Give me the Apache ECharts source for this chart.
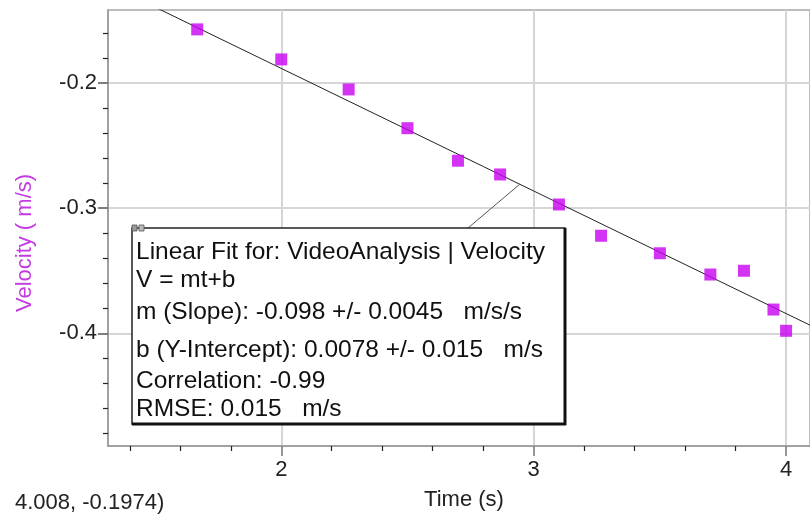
<!DOCTYPE html>
<html>
<head>
<meta charset="utf-8">
<script src="https://cdn.jsdelivr.net/npm/echarts@6/dist/echarts.min.js"></script>
<style>
  html, body { margin: 0; padding: 0; background: #fff; }
  #chart { width: 810px; height: 516px; }
</style>
</head>
<body>
<div id="chart"></div>
<script>
// video analysis points
var times = [1.667, 2.0, 2.267, 2.5, 2.7, 2.867, 3.1, 3.267, 3.5, 3.7, 3.833, 3.95, 4.0];
var velocity = [-0.157, -0.181, -0.205, -0.236, -0.262, -0.273, -0.297, -0.322, -0.336, -0.353, -0.350, -0.381, -0.398];

// linear fit  V = mt+b
var fitM = -0.098;
var fitB = 0.0078;

var xMajorTicks = [2, 3, 4];
var xMinorTicks = [1.4, 1.6, 1.8, 2.2, 2.4, 2.6, 2.8, 3.2, 3.4, 3.6, 3.8];
var yMajorTicks = [-0.2, -0.3, -0.4];
var yMinorTicks = [-0.16, -0.18, -0.22, -0.24, -0.26, -0.28, -0.32, -0.34, -0.36, -0.38, -0.42, -0.44, -0.46, -0.48];

var boxLines = [
  'Linear Fit for: VideoAnalysis | Velocity',
  'V = mt+b',
  'm (Slope): -0.098 +/- 0.0045   m/s/s',
  'b (Y-Intercept): 0.0078 +/- 0.015   m/s',
  'Correlation: -0.99',
  'RMSE: 0.015   m/s'
];

var xMin = 1.3136, xMax = 4.0947;
var yMin = -0.4901, yMax = -0.1415;
var font = 'Liberation Sans, Arial, sans-serif';

var pts = [];
for (var i = 0; i < times.length; i++) pts.push([times[i], velocity[i]]);
var fitPts = [[xMin, fitM * xMin + fitB], [xMax, fitM * xMax + fitB]];

var myChart = echarts.init(document.getElementById('chart'));

var lineY = [252, 280, 312, 350, 381, 409];
var graphics = [
  // connector from box to fit line
  { type: 'line', z: 100, shape: { x1: 468, y1: 228, x2: 520, y2: 184 }, style: { stroke: '#555', lineWidth: 1 } },
  { type: 'rect', z: 100, shape: { x: 132, y: 228, width: 433, height: 196 }, style: { fill: '#fff', stroke: '#222', lineWidth: 1.5 } },
  { type: 'line', z: 101, shape: { x1: 132, y1: 424, x2: 566, y2: 424 }, style: { stroke: '#111', lineWidth: 3 } },
  { type: 'line', z: 101, shape: { x1: 565, y1: 228, x2: 565, y2: 425 }, style: { stroke: '#111', lineWidth: 3 } },
  { type: 'rect', z: 102, shape: { x: 132, y: 225, width: 5, height: 6 }, style: { fill: '#999', stroke: '#555', lineWidth: 0.8 } },
  { type: 'rect', z: 102, shape: { x: 139, y: 225, width: 5, height: 6 }, style: { fill: '#bbb', stroke: '#555', lineWidth: 0.8 } },
  { type: 'text', z: 100, x: 15, y: 503, style: { text: '4.008, -0.1974)', font: '22px ' + font, fill: '#222', textVerticalAlign: 'middle', verticalAlign: 'middle' } }
];
for (var k = 0; k < boxLines.length; k++) {
  graphics.push({
    type: 'text', z: 103, x: 136, y: lineY[k],
    style: { text: boxLines[k], font: '24.5px ' + font, fill: '#111', textVerticalAlign: 'middle', verticalAlign: 'middle' }
  });
}

var option = {
  animation: false,
  grid: { left: 108, top: 10, right: -3, bottom: 65, show: true, borderColor: '#a8a8a8', borderWidth: 1.5 },
  xAxis: [
    {
      type: 'value', min: xMin, max: xMax,
      name: 'Time (s)', nameLocation: 'middle', nameGap: 43,
      nameTextStyle: { fontSize: 22, fontFamily: font, color: '#222', padding: [0, 0, 0, 10] },
      axisLine: { lineStyle: { color: '#999', width: 1.5 } },
      axisTick: { customValues: xMajorTicks, length: 10, lineStyle: { color: '#777', width: 1.5 } },
      axisLabel: { customValues: xMajorTicks, margin: 13, fontSize: 22, fontFamily: font, color: '#222' },
      splitLine: { show: true, lineStyle: { color: '#d6d6d6', width: 2 } }
    },
    {
      type: 'value', min: xMin, max: xMax, position: 'bottom',
      axisLine: { show: false },
      axisTick: { customValues: xMinorTicks, length: 5, lineStyle: { color: '#222', width: 1.2 } },
      axisLabel: { show: false },
      splitLine: { show: false }
    }
  ],
  yAxis: [
    {
      type: 'value', min: yMin, max: yMax,
      name: 'Velocity ( m/s)', nameLocation: 'middle', nameGap: 72,
      nameTextStyle: { fontSize: 22, fontFamily: font, color: '#c43be2', padding: [0, 30, 0, 0] },
      axisLine: { show: true, lineStyle: { color: '#999', width: 1.5 } },
      axisTick: { show: true, customValues: yMajorTicks, length: 10, lineStyle: { color: '#555', width: 1.5 } },
      axisLabel: { customValues: yMajorTicks, margin: 11, fontSize: 22, fontFamily: font, color: '#222' },
      splitLine: { show: true, lineStyle: { color: '#d6d6d6', width: 2 } }
    },
    {
      type: 'value', min: yMin, max: yMax, position: 'left',
      axisLine: { show: false },
      axisTick: { show: true, customValues: yMinorTicks, length: 5, lineStyle: { color: '#222', width: 1.2 } },
      axisLabel: { show: false },
      splitLine: { show: false }
    }
  ],
  series: [
    {
      name: 'Linear Fit', type: 'line', data: fitPts, showSymbol: false, clip: true,
      lineStyle: { color: '#222', width: 1 }, z: 3
    },
    {
      name: 'Velocity', type: 'scatter', data: pts, symbol: 'rect', symbolSize: 12,
      itemStyle: { color: '#c800f0' }, z: 4
    }
  ],
  graphic: graphics
};
myChart.setOption(option);
</script>
</body>
</html>
